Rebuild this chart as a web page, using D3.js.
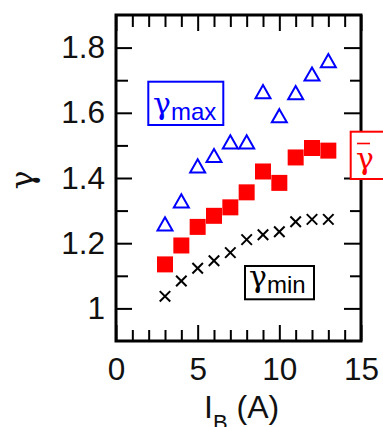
<!DOCTYPE html>
<html>
<head>
<meta charset="utf-8">
<script src="https://cdn.jsdelivr.net/npm/d3@7"></script>
<style>
  html, body { margin: 0; padding: 0; background: #fff; }
  svg { display: block; }
</style>
</head>
<body>
<svg id="chart" width="383" height="427"></svg>
<script>
// Beam current (A) and the three gamma estimates measured at each current
const currents = [3, 4, 5, 6, 7, 8, 9, 10, 11, 12, 13];
const gammaMax  = [1.259, 1.330, 1.437, 1.469, 1.511, 1.511, 1.665, 1.591, 1.662, 1.719, 1.760];
const gammaMean = [1.135, 1.193, 1.250, 1.284, 1.310, 1.356, 1.420, 1.385, 1.463, 1.492, 1.484];
const gammaMin  = [1.037, 1.084, 1.123, 1.146, 1.171, 1.211, 1.226, 1.235, 1.266, 1.273, 1.273];

const xMajorTicks = [0, 5, 10, 15];
const xMinorTicks = [1, 2, 3, 4, 6, 7, 8, 9, 11, 12, 13, 14];
const yMajorTicks = [1.0, 1.2, 1.4, 1.6, 1.8];
const yMinorTicks = [1.1, 1.3, 1.5, 1.7];
const yTickLabels = ["1", "1.2", "1.4", "1.6", "1.8"];

const svg = d3.select("#chart");
const W = 383, H = 427;
const m = { left: 116, right: 22, top: 15, bottom: 86 };
const iw = W - m.left - m.right, ih = H - m.top - m.bottom;

const x = d3.scaleLinear().domain([0, 15]).range([0, iw]);
const y = d3.scaleLinear().domain([0.9, 1.9]).range([ih, 0]);

const sans = "'Liberation Sans', Arial, Helvetica, sans-serif";
const greek = "'DejaVu Serif', serif";

svg.append("rect").attr("width", W).attr("height", H).attr("fill", "#fff");
const g = svg.append("g").attr("transform", `translate(${m.left},${m.top})`);

// Inward ticks on all four sides
function styleAxis(sel) {
  sel.select(".domain").remove();
  sel.selectAll(".tick line").attr("stroke", "#000").attr("stroke-width", 2);
  sel.selectAll(".tick text").attr("font-family", sans).attr("font-size", 31.5).attr("fill", "#111");
}
g.append("g").attr("transform", `translate(0,${ih})`)
  .call(d3.axisBottom(x).tickValues(xMajorTicks).tickSize(-16).tickPadding(17).tickFormat(d3.format("d")))
  .call(styleAxis);
g.append("g").attr("transform", `translate(0,${ih})`)
  .call(d3.axisBottom(x).tickValues(xMinorTicks).tickSize(-11).tickFormat(""))
  .call(styleAxis);
g.append("g")
  .call(d3.axisTop(x).tickValues(xMajorTicks).tickSize(-16).tickFormat(""))
  .call(styleAxis);
g.append("g")
  .call(d3.axisTop(x).tickValues(xMinorTicks).tickSize(-12).tickFormat(""))
  .call(styleAxis);
g.append("g")
  .call(d3.axisLeft(y).tickValues(yMajorTicks).tickSize(-16).tickPadding(11)
    .tickFormat((d, i) => yTickLabels[i]))
  .call(styleAxis);
g.append("g")
  .call(d3.axisLeft(y).tickValues(yMinorTicks).tickSize(-12).tickFormat(""))
  .call(styleAxis);
g.append("g").attr("transform", `translate(${iw},0)`)
  .call(d3.axisRight(y).tickValues(yMajorTicks).tickSize(-17).tickFormat(""))
  .call(styleAxis);
g.append("g").attr("transform", `translate(${iw},0)`)
  .call(d3.axisRight(y).tickValues(yMinorTicks).tickSize(-11).tickFormat(""))
  .call(styleAxis);

// Plot frame
g.append("rect").attr("width", iw).attr("height", ih)
  .attr("fill", "none").attr("stroke", "#000").attr("stroke-width", 3);

// Marker shapes: triangle centred on its bounding box, and an x-cross
const triangleBox = {
  draw(ctx, size) {
    const s = Math.sqrt(size), h = s * 0.88;
    ctx.moveTo(0, -h / 2); ctx.lineTo(s / 2, h / 2); ctx.lineTo(-s / 2, h / 2); ctx.closePath();
  }
};
const cross = {
  draw(ctx, size) {
    const r = Math.sqrt(size) / 2;
    ctx.moveTo(-r, -r); ctx.lineTo(r, r); ctx.moveTo(r, -r); ctx.lineTo(-r, r);
  }
};

const pts = (vals) => currents.map((c, i) => ({ c, v: vals[i] }));

g.append("g").selectAll("path").data(pts(gammaMin)).join("path")
  .attr("transform", d => `translate(${x(d.c)},${y(d.v)})`)
  .attr("d", d3.symbol().type(cross).size(110))
  .attr("fill", "none").attr("stroke", "#000").attr("stroke-width", 2);

g.append("g").selectAll("path").data(pts(gammaMean)).join("path")
  .attr("transform", d => `translate(${x(d.c)},${y(d.v)})`)
  .attr("d", d3.symbol().type(d3.symbolSquare).size(256))
  .attr("fill", "#ff0000");

g.append("g").selectAll("path").data(pts(gammaMax)).join("path")
  .attr("transform", d => `translate(${x(d.c)},${y(d.v)})`)
  .attr("d", d3.symbol().type(triangleBox).size(225))
  .attr("fill", "none").attr("stroke", "#0000ff").attr("stroke-width", 2);

// Axis titles
const xt = svg.append("text").attr("x", 204).attr("y", 418)
  .attr("font-family", sans).attr("font-size", 32).attr("fill", "#111");
xt.append("tspan").text("I");
xt.append("tspan").attr("font-size", 22).attr("dy", 12).text("B");
xt.append("tspan").attr("dy", -12).text(" (A)");

svg.append("text").attr("transform", "translate(28,180) rotate(-90)")
  .attr("text-anchor", "middle").attr("dy", "0.15em")
  .attr("font-family", greek).attr("font-size", 32).attr("fill", "#111").text("γ");

// Series labels in boxes
function labelBox(bx, by, bw, bh, color, sub, gx, baseline) {
  svg.append("rect").attr("x", bx).attr("y", by).attr("width", bw).attr("height", bh)
    .attr("fill", "#fff").attr("stroke", color).attr("stroke-width", 2);
  const t = svg.append("text").attr("x", gx).attr("y", baseline - 6)
    .attr("font-family", greek).attr("font-size", 30).attr("fill", color);
  t.append("tspan").text("γ");
  if (sub) {
    t.append("tspan").attr("font-family", sans).attr("font-size", 24).attr("dx", 0).attr("dy", 6).text(sub);
  }
  return t;
}
labelBox(148.3, 81.7, 75, 43.3, "#0000ff", "max", 153, 120);
labelBox(245, 266, 69, 33.3, "#000", "min", 249, 293);
labelBox(350.7, 131.7, 60, 47.3, "#ff0000", null, 356, 175);
svg.append("line").attr("x1", 357).attr("x2", 370).attr("y1", 143.5).attr("y2", 143.5)
  .attr("stroke", "#ff0000").attr("stroke-width", 1.6);
</script>
</body>
</html>
